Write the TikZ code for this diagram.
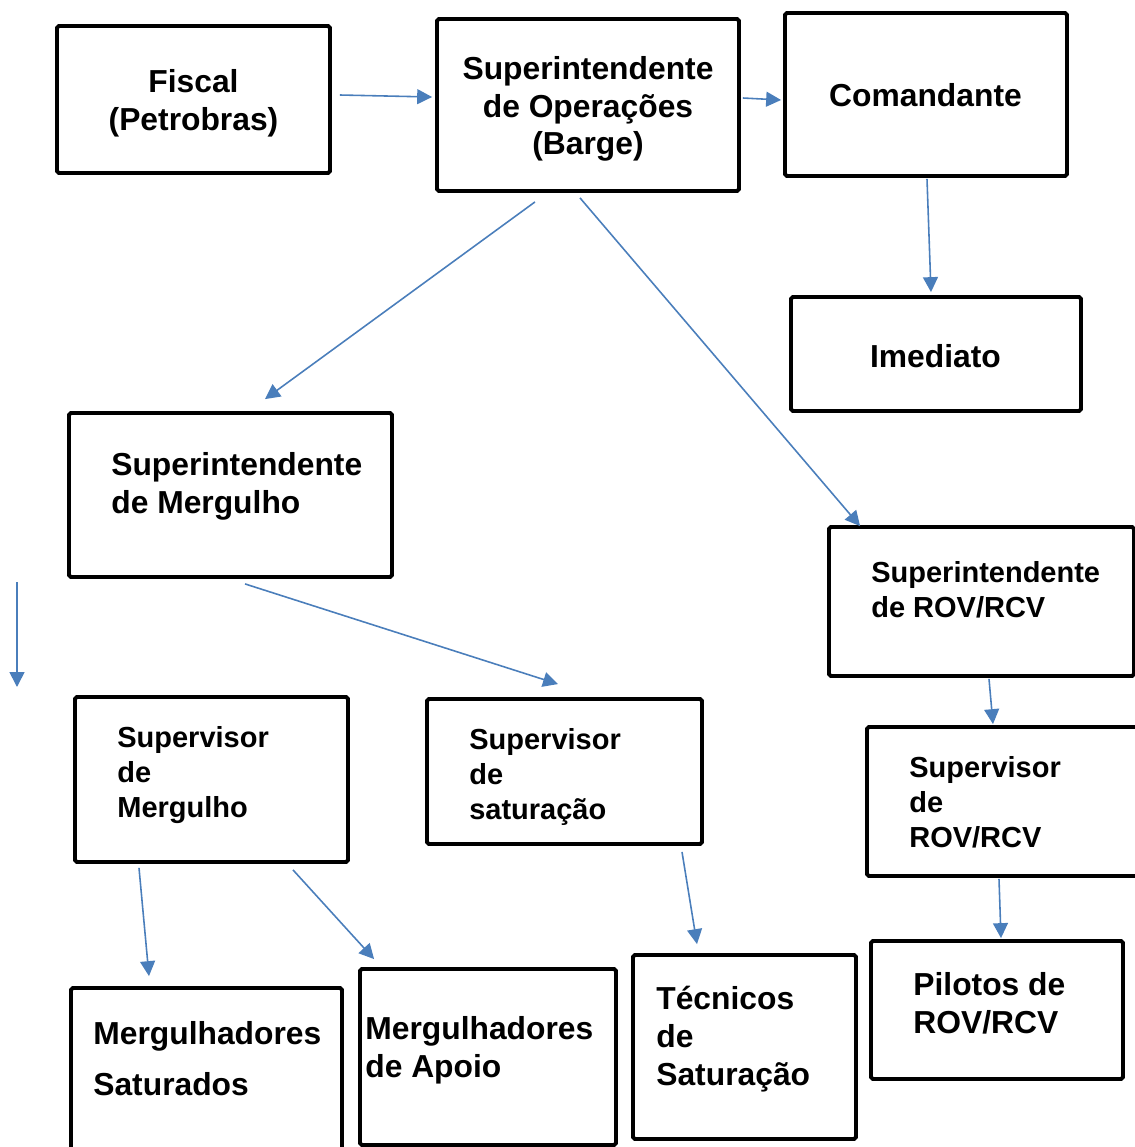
\documentclass[tikz,border=0pt]{standalone}
\usepackage{fontspec}
\setmainfont{Liberation Sans}
\usetikzlibrary{arrows.meta}
\definecolor{linkblue}{RGB}{74,126,187}
\newcommand{\bigtxt}{\fontsize{18.1}{21.5}\selectfont\bfseries}
\newcommand{\smalltxt}{\fontsize{16.5}{19.8}\selectfont\bfseries}

\begin{document}
\begin{tikzpicture}[x=0.02cm,y=-0.02cm,
  box/.style={draw,line width=2.2pt,rounded corners=1pt,inner sep=0pt},
  txt/.style={anchor=west,inner sep=0pt,align=left,font=\bigtxt},
  txtmid/.style={inner sep=0pt,align=center,font=\bigtxt},
  txtsmall/.style={txt,font=\smalltxt},
  link/.style={draw=linkblue,line width=0.9pt,-{Triangle[length=8.5pt,width=8.5pt]}}]
\useasboundingbox (0,0) rectangle (1135,1147);
\clip (0,0) rectangle (1135,1147);
\node[box,minimum width=5.46cm,minimum height=2.94cm] (fiscal) at (193.5,99.5) {};
\node[box,minimum width=6.04cm,minimum height=3.44cm] (supop) at (588,105) {};
\node[box,minimum width=5.64cm,minimum height=3.26cm] (comand) at (926,94.5) {};
\node[box,minimum width=5.80cm,minimum height=2.28cm] (imediato) at (936,354) {};
\node[box,minimum width=6.46cm,minimum height=3.28cm] (supmerg) at (230.5,495) {};
\node[box,minimum width=6.10cm,minimum height=2.98cm] (suprov) at (981.5,601.5) {};
\node[box,minimum width=5.46cm,minimum height=3.30cm] (svmerg) at (211.5,779.5) {};
\node[box,minimum width=5.50cm,minimum height=2.90cm] (svsat) at (564.5,771.5) {};
\node[box,minimum width=5.56cm,minimum height=2.98cm] (svrov) at (1006,801.5) {};
\node[box,minimum width=5.42cm,minimum height=3.44cm] (mergsat) at (206.5,1074) {};
\node[box,minimum width=5.12cm,minimum height=3.52cm] (mergapoio) at (488,1057) {};
\node[box,minimum width=4.46cm,minimum height=3.68cm] (tecnicos) at (744.5,1047) {};
\node[box,minimum width=5.04cm,minimum height=2.76cm] (pilotos) at (997,1010) {};

\node[txtmid] (fiscal-t) at (193.5,103.5) {Fiscal\\(Petrobras)};
\node[txtmid] (supop-t) at (588,109) {Superintendente\\de Operações\\(Barge)};
\node[txtmid] (comand-t) at (925.5,95.5) {Comandante};
\node[txtmid] (imediato-t) at (935.5,356) {Imediato};
\node[txt] (supmerg-t) at (111,486) {Superintendente\\de Mergulho};
\node[txtsmall] (suprov-t) at (871,589.5) {Superintendente\\de ROV/RCV};
\node[txtsmall] (svmerg-t) at (117,775) {Supervisor\\de\\Mergulho};
\node[txtsmall] (svsat-t) at (469,777) {Supervisor\\de\\saturação};
\node[txtsmall] (svrov-t) at (909,802) {Supervisor\\de\\ROV/RCV};
\node[txt,font=\fontsize{18.1}{28.9}\selectfont\bfseries] (mergsat-t) at (93,1058.5) {Mergulhadores\\Saturados};
\node[txt] (mergapoio-t) at (365,1050) {Mergulhadores\\de Apoio};
\node[txt] (tecnicos-t) at (656,1039) {Técnicos\\de\\Saturação};
\node[txt] (pilotos-t) at (913,1003.5) {Pilotos de\\ROV/RCV};

\coordinate (free-a) at (17,582);
\coordinate (free-b) at (17,687);

\draw[link] ([shift={(8,-4.5)}]fiscal.east) -- ([shift={(-3,-8)}]supop.west);
\draw[link] ([shift={(2,-7)}]supop.east) -- ([shift={(-2,5.5)}]comand.west);
\draw[link] ([shift={(1,1)}]comand.south) -- ([shift={(-5,-3)}]imediato.north);
\draw[link] ([shift={(-53,9)}]supop.south) -- ([shift={(34.5,-12)}]supmerg.north);
\draw[link] ([shift={(-8,5)}]supop.south) -- ([shift={(33,1)}]suprov.north west);
\draw[link] ([shift={(14.5,5)}]supmerg.south) -- ([shift={(-6.5,-13)}]svsat.north);
\draw[link] (free-a) -- (free-b);
\draw[link] ([shift={(-72.5,4)}]svmerg.south) -- ([shift={(-57.5,-10)}]mergsat.north);
\draw[link] ([shift={(81.5,6)}]svmerg.south) -- ([shift={(16,-8)}]mergapoio.north west);
\draw[link] ([shift={(117.5,6)}]svsat.south) -- ([shift={(-47.5,-9)}]tecnicos.north);
\draw[link] ([shift={(7.5,1)}]suprov.south) -- ([shift={(-13,-1)}]svrov.north);
\draw[link] ([shift={(-7,1)}]svrov.south) -- ([shift={(4,-1)}]pilotos.north);
\end{tikzpicture}
\end{document}
